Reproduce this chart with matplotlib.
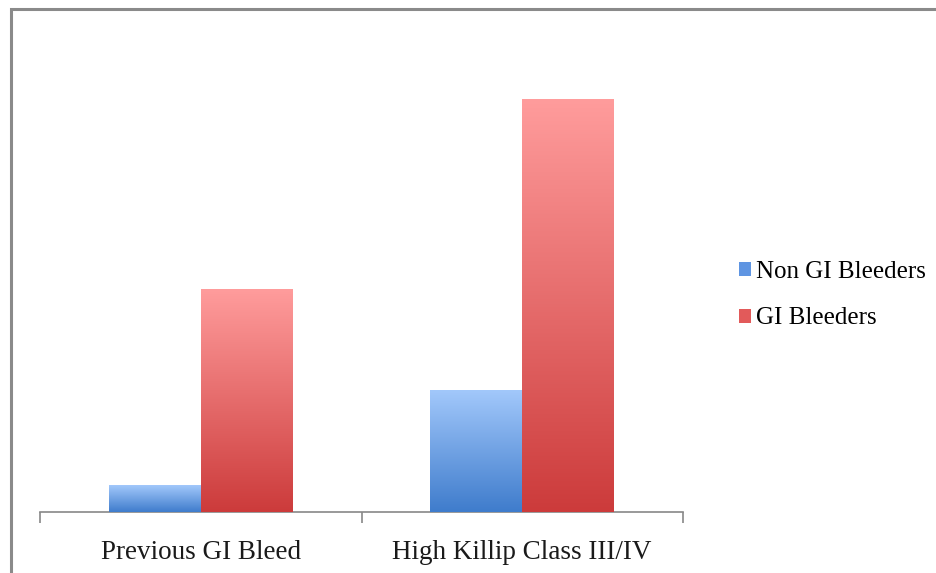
import matplotlib.pyplot as plt
import numpy as np
from matplotlib.patches import Rectangle
from matplotlib.colors import LinearSegmentedColormap

categories = ["Previous GI Bleed", "High Killip Class III/IV"]
series_names = ["Non GI Bleeders", "GI Bleeders"]
non_gi = [1.3, 5.9]
gi = [10.8, 20.0]

# top colour, bottom colour for each series
grad_colors = [("#a2c8fb", "#3f7ccc"), ("#ff9c9c", "#cc3b3b")]
legend_colors = ["#5f95e2", "#e25a5a"]

plt.rcParams['font.family'] = ['Liberation Serif', 'DejaVu Serif']

fig = plt.figure(figsize=(9.36, 5.73), dpi=100)
ax = fig.add_axes([40 / 936, 1 - 512 / 573, 643 / 936, 472 / 573])

x = np.arange(len(categories))
w = 0.286

def gradient_bar(ax, bars, top, bottom):
    cmap = LinearSegmentedColormap.from_list("g", [bottom, top])
    grad = np.linspace(0, 1, 256).reshape(-1, 1)
    for b in bars:
        bx, by = b.get_x(), b.get_y()
        bw, bh = b.get_width(), b.get_height()
        im = ax.imshow(grad, cmap=cmap, origin="lower", aspect="auto",
                       extent=[bx, bx + bw, by, by + bh], zorder=3)
        im.set_clip_path(b)
        b.set_facecolor("none")

for i, vals in enumerate([non_gi, gi]):
    offs = (i - 0.5) * w
    bars = ax.bar(x + offs, vals, w, color=grad_colors[i][1],
                  edgecolor="none", zorder=2)
    gradient_bar(ax, bars, *grad_colors[i])
    # legend proxy
    ax.bar([0], [0], color=legend_colors[i], label=series_names[i])

ax.set_xlim(-0.5, len(categories) - 0.5)
ax.set_ylim(0, 22.86)

for s in ["top", "right", "left"]:
    ax.spines[s].set_visible(False)
ax.spines["bottom"].set_color("#888888")
ax.spines["bottom"].set_linewidth(1.2)
ax.set_yticks([])
ax.set_xticks(x)
ax.set_xticklabels(categories, fontsize=19.5, color="#1a1a1a")
ax.tick_params(axis="x", which="major", length=0, pad=20)
ax.set_xticks([-0.5, 0.5, 1.5], minor=True)
ax.tick_params(axis="x", which="minor", length=8, width=1.2, color="#888888")

handles, labels = ax.get_legend_handles_labels()
leg = fig.legend(handles, labels, loc="center left",
                 bbox_to_anchor=(716 / 936, 1 - 295 / 573), frameon=False,
                 fontsize=18, handlelength=0.5, handleheight=0.5,
                 handletextpad=0.2, labelspacing=1.0)

fig.patches.append(Rectangle((11 / 936, -0.05), 1.05, 1 - 9 / 573 + 0.05,
                             transform=fig.transFigure, fill=False,
                             edgecolor="#8a8a8a", linewidth=2.2))

fig.savefig("out.png", dpi=100)
